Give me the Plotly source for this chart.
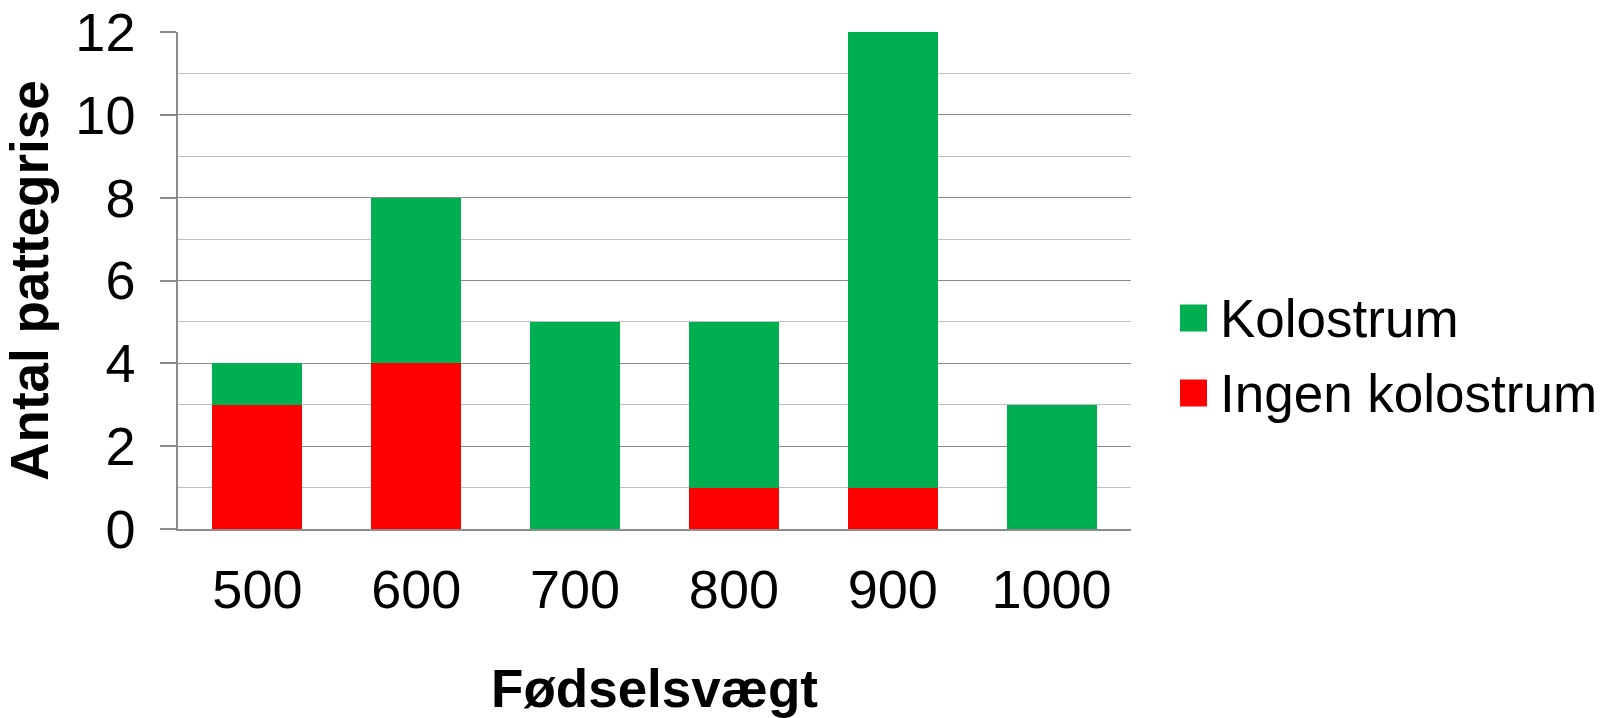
import plotly.graph_objects as go

categories = ["500", "600", "700", "800", "900", "1000"]
ingen_kolostrum = [3, 4, 0, 1, 1, 0]
kolostrum = [1, 4, 5, 4, 11, 3]
series_names = ["Kolostrum", "Ingen kolostrum"]
series_colors = ["#00B050", "#FF0000"]
y_ticks = [0, 2, 4, 6, 8, 10, 12]

FONT = "Liberation Sans, Arial, sans-serif"
L, R, T, B = 178, 1131, 32, 529
PW, PH = R - L, B - T

fig = go.Figure()
fig.add_trace(go.Bar(x=categories, y=ingen_kolostrum, name=series_names[1],
                     marker=dict(color=series_colors[1], line=dict(width=0)), showlegend=False))
fig.add_trace(go.Bar(x=categories, y=kolostrum, name=series_names[0],
                     marker=dict(color=series_colors[0], line=dict(width=0)), showlegend=False))

fig.update_layout(
    barmode="stack",
    bargap=0.433,
    width=1602, height=718,
    margin=dict(l=L, r=1602 - R, t=T, b=718 - B, autoexpand=False),
    paper_bgcolor="white", plot_bgcolor="white",
    font=dict(family=FONT, size=54, color="black"),
)
fig.update_yaxes(
    range=[0, 12], tickvals=y_ticks, automargin=False,
    showgrid=True, gridcolor="#8C8C8C", gridwidth=1.3,
    minor=dict(dtick=1, showgrid=True, gridcolor="#BFBFBF", gridwidth=1.3),
    showline=True, linecolor="#8C8C8C", linewidth=1.5,
    ticks="outside", ticklen=16, tickcolor="#8C8C8C", tickwidth=1.5,
    ticklabelstandoff=14,
    zeroline=False,
    tickfont=dict(size=54, family=FONT),
    title=dict(text="<b>Antal pattegrise</b>", font=dict(size=53, family=FONT), standoff=10),
)
fig.update_xaxes(
    showline=True, linecolor="#8C8C8C", linewidth=1.5, automargin=False,
    ticks="", showgrid=False,
    ticklabelstandoff=12,
    tickfont=dict(size=54, family=FONT),
    title=dict(text="<b>Fødselsvægt</b>", font=dict(size=53, family=FONT), standoff=54),
)

# Legend drawn manually (large square swatches)
legend_rows = [(series_names[0], series_colors[0], 318), (series_names[1], series_colors[1], 393)]
for name, color, yc in legend_rows:
    fig.add_shape(type="rect", xref="paper", yref="paper",
                  x0=(1180 - L) / PW, x1=(1207 - L) / PW,
                  y0=(B - (yc + 13.5)) / PH, y1=(B - (yc - 13.5)) / PH,
                  fillcolor=color, line=dict(width=0))
    fig.add_annotation(text=name, xref="paper", yref="paper",
                       x=(1218 - L) / PW, y=(B - yc) / PH,
                       xanchor="left", yanchor="middle", showarrow=False,
                       font=dict(size=53, family=FONT, color="black"))

fig.write_html("out.html", config={"displayModeBar": False},
               post_script="document.body.style.margin='0';")
